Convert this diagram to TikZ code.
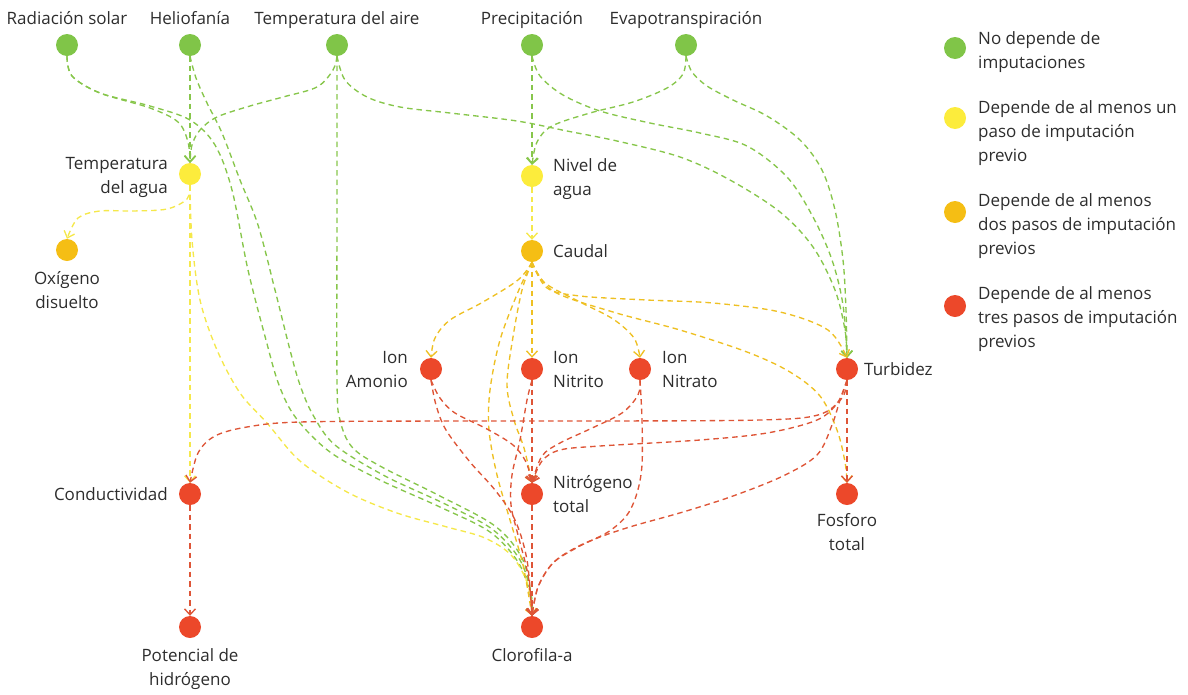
\documentclass[tikz,border=0pt]{standalone}
\usepackage{fontspec}
\setmainfont{Open Sans}
\usetikzlibrary{arrows.meta}
\definecolor{gfill}{RGB}{128,197,72}
\definecolor{yfill}{RGB}{252,236,60}
\definecolor{ofill}{RGB}{245,190,20}
\definecolor{rfill}{RGB}{236,72,42}
\definecolor{gline}{RGB}{135,198,75}
\definecolor{yline}{RGB}{245,232,75}
\definecolor{oline}{RGB}{238,192,35}
\definecolor{rline}{RGB}{222,85,55}
\definecolor{txt}{RGB}{45,45,45}
\begin{document}
\begin{tikzpicture}[x=1pt,y=-1pt,
  dot/.style={circle,minimum size=22pt,inner sep=0pt,draw=none},
  gdot/.style={dot,fill=gfill},
  ydot/.style={dot,fill=yfill},
  odot/.style={dot,fill=ofill},
  rdot/.style={dot,fill=rfill},
  lbl/.style={font=\fontsize{17}{24}\selectfont,text=txt,inner sep=0pt},
  conn/.style={line width=1.35pt,dash pattern=on 5.5pt off 4pt,-{Straight Barb[length=6pt,width=11pt]}},
  ge/.style={conn,draw=gline},
  ye/.style={conn,draw=yline},
  oe/.style={conn,draw=oline},
  re/.style={conn,draw=rline},
  sm/.style={smooth,tension=0.55}
]
\useasboundingbox (0,0) rectangle (1188,694);

% nodes
\node[gdot] (rad) at (67,45) {};
\node[gdot] (hel) at (190,45) {};
\node[gdot] (tair) at (337,45) {};
\node[gdot] (prec) at (532,45) {};
\node[gdot] (evap) at (686,45) {};
\node[ydot] (tagua) at (190,174) {};
\node[ydot] (nivel) at (532,176) {};
\node[odot] (oxi) at (67,250) {};
\node[odot] (caudal) at (532,251) {};
\node[rdot] (amon) at (431,369) {};
\node[rdot] (nitri) at (532,369) {};
\node[rdot] (nitra) at (640,369) {};
\node[rdot] (turb) at (847,369) {};
\node[rdot] (cond) at (190,494) {};
\node[rdot] (ntot) at (532,494) {};
\node[rdot] (fos) at (847,494) {};
\node[rdot] (ph) at (190,627) {};
\node[rdot] (clo) at (532,627) {};

% labels
\node[lbl,anchor=base] (lrad) at (67,24) {Radiación solar};
\node[lbl,anchor=base] (lhel) at (190,24) {Heliofanía};
\node[lbl,anchor=base] (ltair) at (337,24) {Temperatura del aire};
\node[lbl,anchor=base] (lprec) at (532,24) {Precipitación};
\node[lbl,anchor=base] (levap) at (686,24) {Evapotranspiración};
\node[lbl,anchor=north east,align=right] (ltagua) at (168,157) {Temperatura\\del agua};
\node[lbl,anchor=north west,align=left] (lnivel) at (553,158) {Nivel de\\agua};
\node[lbl,anchor=north,align=center] (loxi) at (67,271) {Oxígeno\\disuelto};
\node[lbl,anchor=west] (lcaudal) at (553,251) {Caudal};
\node[lbl,anchor=north east,align=right] (lamon) at (408,351) {Ion\\Amonio};
\node[lbl,anchor=north west,align=left] (lnitri) at (553,351) {Ion\\Nitrito};
\node[lbl,anchor=north west,align=left] (lnitra) at (662,351) {Ion\\Nitrato};
\node[lbl,anchor=west] (lturb) at (864,369) {Turbidez};
\node[lbl,anchor=east] (lcond) at (168,494) {Conductividad};
\node[lbl,anchor=north west,align=left] (lntot) at (553,475) {Nitrógeno\\total};
\node[lbl,anchor=north,align=center] (lfos) at (847,513) {Fosforo\\total};
\node[lbl,anchor=north,align=center] (lph) at (190,648) {Potencial de\\hidrógeno};
\node[lbl,anchor=north,align=center] (lclo) at (532,648) {Clorofila-a};

% legend
\node[gdot] (k1) at (955,48) {};
\node[ydot] (k2) at (955,118) {};
\node[odot] (k3) at (955,212) {};
\node[rdot] (k4) at (955,306) {};
\node[lbl,anchor=north west,align=left] (t1) at (978,31) {No depende de\\imputaciones};
\node[lbl,anchor=north west,align=left] (t2) at (978,100) {Depende de al menos un\\paso de imputación\\previo};
\node[lbl,anchor=north west,align=left] (t3) at (978,193) {Depende de al menos\\dos pasos de imputación\\previos};
\node[lbl,anchor=north west,align=left] (t4) at (978,286) {Depende de al menos\\tres pasos de imputación\\previos};

% green connectors
\draw[ge] plot[sm] coordinates {(rad.south) (72,76) (100,93) (150,108) (178,122) (188,142) (tagua.north)};
\draw[ge] plot[sm] coordinates {(rad.south) (72,76) (100,93) (150,106) (190,120) (215,145) (232,190) (248,270) (266,340) (279,385) (296,418) (330,452) (380,480) (440,507) (490,532) (518,562) (530,594) (clo.north)};
\draw[ge] (hel.south) -- (tagua.north);
\draw[ge] plot[sm] coordinates {(hel.south) (196,78) (207,103) (222,133) (240,180) (258,225) (275,290) (290,350) (300,385) (313,415) (335,445) (385,476) (443,503) (492,529) (520,560) (531,594) (clo.north)};
\draw[ge] plot[sm] coordinates {(tair.south) (333,70) (317,87) (283,97) (250,106) (217,117) (200,130) (192,145) (tagua.north)};
\draw[ge] plot[sm] coordinates {(tair.south) (337,200) (337,380) (340,420) (352,447) (380,466) (440,496) (495,526) (522,558) (531,594) (clo.north)};
\draw[ge] plot[sm] coordinates {(tair.south) (345,80) (367,97) (400,107) (450,113) (517,121) (567,131) (617,141) (680,157) (730,180) (780,212) (813,247) (835,290) (845,330) (turb.north)};
\draw[ge] plot[sm] coordinates {(prec.south) (540,76) (563,95) (600,111) (650,123) (700,133) (747,146) (787,177) (813,217) (832,260) (843,305) (turb.north)};
\draw[ge] plot[sm] coordinates {(evap.south) (692,72) (707,86) (733,100) (767,116) (800,140) (822,170) (835,210) (843,260) (846,310) (turb.north)};
\draw[ge] plot[sm] coordinates {(evap.south) (683,74) (667,88) (633,102) (590,113) (552,126) (537,142) (nivel.north)};
\draw[ge] (prec.south) -- (nivel.north);

% yellow connectors
\draw[ye] plot[sm] coordinates {(tagua.south) (187,199) (167,209) (133,211) (100,211) (78,218) (oxi.north)};
\draw[ye] (tagua.south) -- (cond.north);
\draw[ye] plot[sm] coordinates {(tagua.south) (192,240) (200,300) (217,350) (240,393) (267,423) (300,461) (347,492) (397,513) (447,527) (485,538) (512,556) (528,585) (clo.north)};
\draw[ye] (nivel.south) -- (caudal.north);

% orange connectors
\draw[oe] plot[sm] coordinates {(caudal.south) (518,280) (483,302) (450,320) (435,338) (amon.north)};
\draw[oe] (caudal.south) -- (nitri.north);
\draw[oe] plot[sm] coordinates {(caudal.south) (545,283) (580,302) (613,319) (634,338) (nitra.north)};
\draw[oe] plot[sm] coordinates {(caudal.south) (547,288) (580,296) (647,300) (713,303) (780,312) (828,330) (turb.north)};
\draw[oe] plot[sm] coordinates {(caudal.south) (553,291) (613,312) (680,330) (747,352) (790,372) (820,396) (837,430) (845,462) (fos.north)};
\draw[oe] plot[sm] coordinates {(caudal.south) (522,290) (513,337) (507,385) (514,420) (524,448) (ntot.north)};
\draw[oe] plot[sm] coordinates {(caudal.south) (518,292) (500,340) (490,390) (489,430) (497,475) (510,520) (523,565) (clo.north)};

% red connectors
\draw[re] (cond.south) -- (ph.north);
\draw[re] (nitri.south) -- (ntot.north);
\draw[re] (ntot.south) -- (clo.north);
\draw[re] (turb.south) -- (fos.north);
\draw[re] plot[sm] coordinates {(turb.south) (842,398) (818,415) (760,420) (600,421) (450,421) (300,422) (247,427) (215,436) (198,453) (cond.north)};
\draw[re] plot[sm] coordinates {(turb.south) (838,402) (817,420) (767,433) (700,440) (600,446) (560,450) (542,461) (ntot.north)};
\draw[re] plot[sm] coordinates {(turb.south) (840,400) (832,425) (817,455) (783,476) (733,496) (683,512) (633,526) (600,537) (575,548) (553,563) (538,587) (clo.north)};
\draw[re] plot[sm] coordinates {(nitra.south) (638,395) (622,413) (590,429) (560,443) (542,456) (ntot.north)};
\draw[re] plot[sm] coordinates {(nitra.south) (642,420) (642,465) (637,493) (627,515) (608,532) (578,547) (553,563) (538,587) (clo.north)};
\draw[re] plot[sm] coordinates {(amon.south) (440,398) (455,413) (487,429) (513,445) (526,462) (ntot.north)};
\draw[re] plot[sm] coordinates {(amon.south) (436,405) (446,430) (470,462) (495,490) (515,520) (527,560) (clo.north)};
\draw[re] plot[sm] coordinates {(nitri.south) (527,400) (520,440) (512,475) (511,505) (518,535) (528,575) (clo.north)};
\end{tikzpicture}
\end{document}
